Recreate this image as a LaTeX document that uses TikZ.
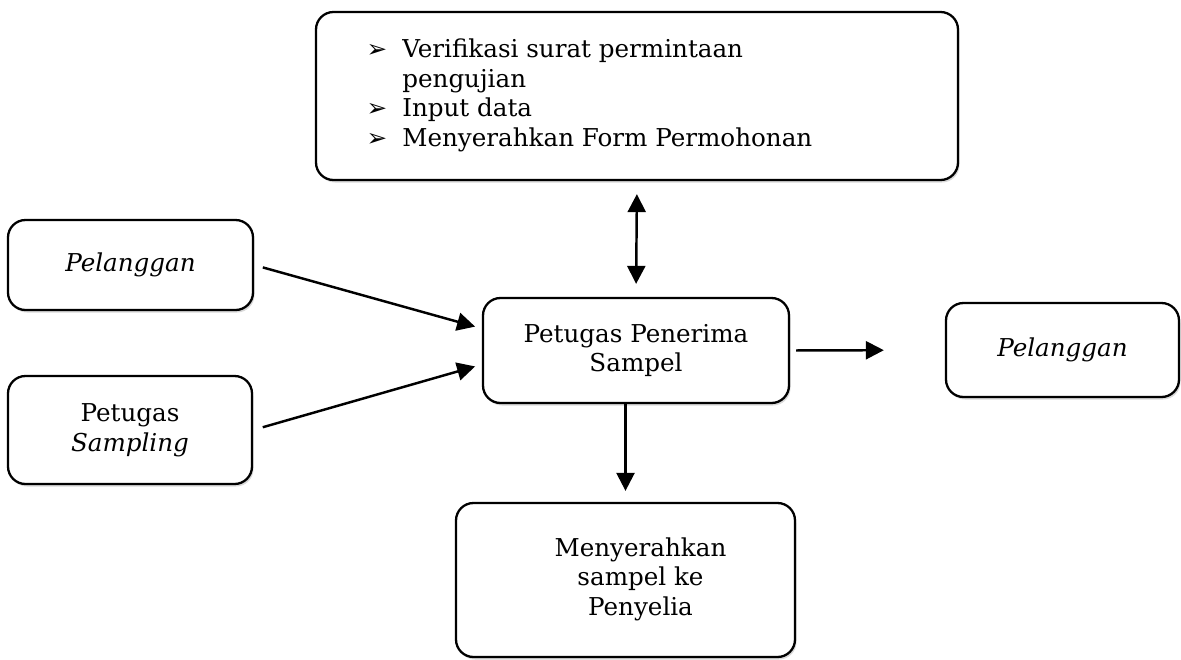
\documentclass[tikz,border=0pt]{standalone}
\usepackage{fontspec}
\setmainfont{DejaVu Serif}
\newfontfamily\symfont{DejaVu Sans}
\usetikzlibrary{arrows.meta,shadows}

\begin{document}
\begin{tikzpicture}[
		box/.style  = {rectangle, draw=black, fill=white, line width=1.3pt, rounded corners=0.35cm,
			align=center, font=\fontsize{14}{17}\selectfont,
			drop shadow={shadow xshift=0.03cm, shadow yshift=-0.05cm, opacity=0.3}},
		arr/.style  = {-{Triangle[length=0.36cm, width=0.36cm]}, line width=1.4pt},
		darr/.style = {{Triangle[length=0.36cm, width=0.36cm]}-{Triangle[length=0.36cm, width=0.36cm]}, line width=1.4pt}
		]
		
		\useasboundingbox (0,0) rectangle (23.62,13.18);
		
		% === === Nodes === ===
		\node[box, minimum width=12.84cm, minimum height=3.36cm]	(task)	at	(12.74, 11.26)	{%
			\begin{tabular}{@{}l@{\hspace{0.3cm}}l@{}}
				{\symfont ➢} & Verifikasi surat permintaan\\
				& pengujian\\
				{\symfont ➢} & Input data\\
				{\symfont ➢} & Menyerahkan Form Permohonan
			\end{tabular}\hspace*{1.9cm}};
		\node[box, minimum width=4.9cm, minimum height=1.8cm]	(cust-in)	at	(2.61, 7.88)	{\itshape Pelanggan};
		\node[box, minimum width=4.88cm, minimum height=2.16cm]	(sampler)	at	(2.60, 4.58)	{Petugas\\\itshape Sampling};
		\node[box, minimum width=6.12cm, minimum height=2.1cm]	(recv)	at	(12.72, 6.17)	{Petugas Penerima\\Sampel};
		\node[box, minimum width=4.66cm, minimum height=1.88cm]	(cust-out)	at	(21.25, 6.18)	{\itshape Pelanggan};
		\node[box, minimum width=6.78cm, minimum height=3.08cm]	(handover)	at	(12.51, 1.58)	{%
			\hspace*{0.6cm}\begin{tabular}{@{}c@{}}Menyerahkan\\sampel ke\\Penyelia\end{tabular}};
		
		% === === Lines === ===
		\draw[darr, shorten <=0.26cm, shorten >=0.26cm]	(task.south)	--	(recv.north);
		\draw[arr, shorten <=0.18cm, shorten >=0.14cm]	(cust-in.east)	--	([yshift=0.44cm]recv.west);
		\draw[arr, shorten <=0.2cm, shorten >=0.14cm]	(sampler.east)	--	([yshift=-0.28cm]recv.west);
		\draw[arr, shorten <=0.12cm, shorten >=1.22cm]	(recv.east)	--	(cust-out.west);
		\draw[arr, shorten >=0.22cm]	(handover.north |- recv.south)	--	(handover.north);
		
	\end{tikzpicture}
\end{document}
